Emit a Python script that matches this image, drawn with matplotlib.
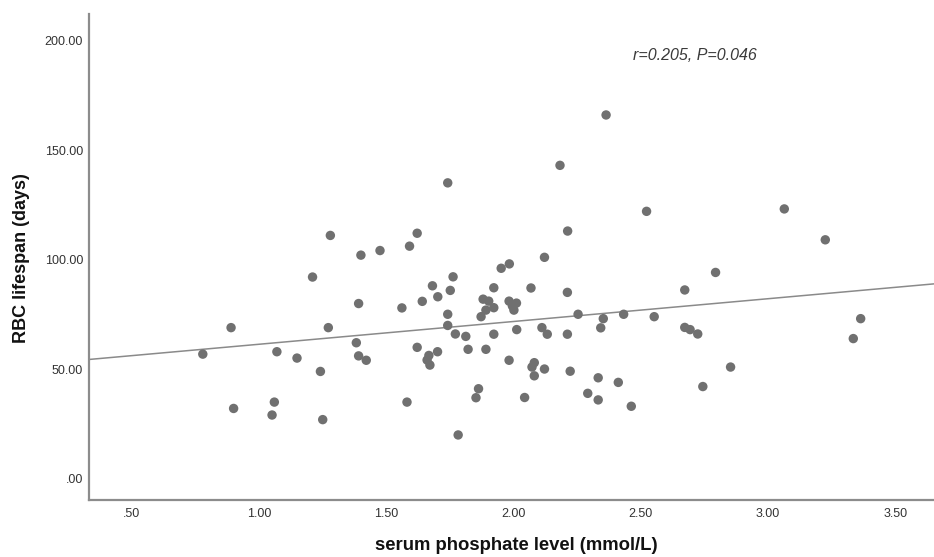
import matplotlib
matplotlib.use("Agg")
import matplotlib.pyplot as plt
import numpy as np

plt.rcParams['font.family'] = ['Liberation Sans', 'DejaVu Sans']

# serum phosphate (mmol/L)
phosphate = [
    0.780, 0.891, 0.901, 1.052, 1.061, 1.071, 1.150, 1.211, 1.242, 1.251,
    1.281, 1.401, 1.476, 1.392, 1.273, 1.383, 1.392, 1.422, 1.622, 1.592,
    1.952, 1.984, 1.763, 1.682, 1.752, 1.703, 1.923, 2.069, 1.642, 1.562,
    1.881, 1.903, 1.892, 1.923, 1.873, 1.983, 2.012, 1.996, 2.002, 1.742,
    1.742, 1.772, 1.813, 1.923, 2.013, 1.622, 1.702, 1.822, 1.892, 1.668,
    1.661, 1.672, 1.983, 1.863, 1.853, 2.044, 1.582, 1.783, 2.213, 2.122,
    2.212, 2.254, 2.353, 2.433, 2.553, 2.112, 2.133, 2.212, 2.343, 2.082,
    2.073, 2.082, 2.122, 2.223, 2.333, 2.412, 2.292, 2.333, 2.463, 3.064,
    3.225, 2.794, 2.673, 3.364, 3.335, 2.673, 2.694, 2.724, 2.853, 2.744,
    2.364, 2.183, 1.742, 2.523,
]
# RBC lifespan (days)
lifespan = [
    56.9, 69.0, 32.1, 29.1, 35.0, 58.0, 55.1, 92.1, 49.0, 27.0,
    111.1, 102.1, 104.2, 80.0, 69.0, 62.1, 56.1, 54.1, 112.1, 106.2,
    96.1, 98.1, 92.2, 88.1, 86.0, 83.1, 87.2, 87.1, 81.0, 78.0,
    82.0, 81.1, 77.0, 78.1, 74.0, 81.1, 80.2, 78.9, 77.0, 75.1,
    70.0, 66.1, 65.0, 66.0, 68.1, 60.0, 58.0, 59.1, 59.1, 56.3,
    54.2, 51.9, 54.1, 41.1, 37.0, 37.1, 35.0, 20.0, 113.1, 101.1,
    85.1, 75.1, 73.1, 75.1, 74.0, 69.0, 66.0, 66.0, 68.9, 53.0,
    51.0, 47.0, 50.1, 49.1, 46.1, 44.0, 39.0, 36.0, 33.1, 123.2,
    109.1, 94.2, 86.2, 73.1, 64.0, 69.1, 68.1, 66.1, 51.0, 42.1,
    166.1, 143.1, 135.1, 122.1,
]

fit_intercept = 51.0
fit_slope = 10.4

x_ticks = [0.5, 1.0, 1.5, 2.0, 2.5, 3.0, 3.5]
x_ticklabels = [".50", "1.00", "1.50", "2.00", "2.50", "3.00", "3.50"]
y_ticks = [0, 50, 100, 150, 200]
y_ticklabels = [".00", "50.00", "100.00", "150.00", "200.00"]

annotation = "r=0.205, P=0.046"
xlabel = "serum phosphate level (mmol/L)"
ylabel = "RBC lifespan (days)"

W, H = 934, 557
fig = plt.figure(figsize=(W / 100, H / 100), dpi=100)
ax = fig.add_axes([89 / W, 1 - 500 / H, (934 - 89) / W, (500 - 14) / H])

xlim = (0.333, 3.652)
ylim = (-9.7, 212.2)
ax.set_xlim(*xlim)
ax.set_ylim(*ylim)

ax.scatter(phosphate, lifespan, s=46, color="#707070", edgecolors="none", zorder=3)

xs = np.array(xlim)
ax.plot(xs, fit_intercept + fit_slope * xs, color="#8a8a8a", lw=1.1, zorder=2)

for side in ["top", "right"]:
    ax.spines[side].set_visible(False)
for side in ["left", "bottom"]:
    ax.spines[side].set_color("#8c8c8c")
    ax.spines[side].set_linewidth(1.6)

ax.set_xticks(x_ticks)
ax.set_xticklabels(x_ticklabels)
ax.set_yticks(y_ticks)
ax.set_yticklabels(y_ticklabels)
ax.tick_params(axis="both", length=0, labelsize=9, labelcolor="#333333")
ax.tick_params(axis="x", pad=5.5)
ax.tick_params(axis="y", pad=4.3)

fig.text(516 / W, 1 - 545 / H, xlabel, ha="center", va="center",
         fontsize=13.3, fontweight="bold", color="#111111")
fig.text(22 / W, 1 - 258 / H, ylabel, ha="center", va="center", rotation=90,
         fontsize=13, fontweight="bold", color="#111111")

ax.text(695 / W, 1 - 55 / H, annotation, transform=fig.transFigure, ha="center", va="center",
        fontsize=11.5, style="italic", color="#3a3a3a")

fig.savefig("out.png", dpi=100)
